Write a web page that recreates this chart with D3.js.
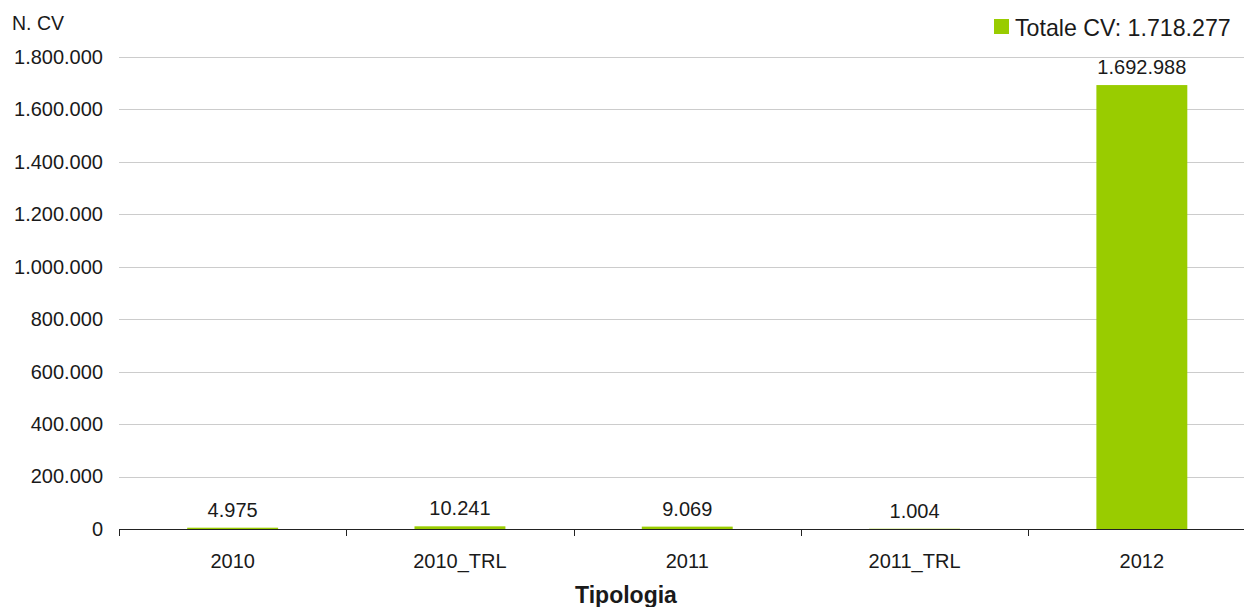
<!DOCTYPE html>
<html>
<head>
<meta charset="utf-8">
<script src="https://cdn.jsdelivr.net/npm/d3@7"></script>
<style>
  html, body { margin: 0; padding: 0; background: #fff; }
  svg { display: block; font-family: "Liberation Sans", Arial, sans-serif; }
</style>
</head>
<body>
<svg id="chart" width="1244" height="607"></svg>
<script>
// Numero di CV per tipologia
const categories = ["2010", "2010_TRL", "2011", "2011_TRL", "2012"];
const values = [4975, 10241, 9069, 1004, 1692988];
const yTicks = [0, 200000, 400000, 600000, 800000, 1000000, 1200000, 1400000, 1600000, 1800000];

const it = d3.formatLocale({ decimal: ",", thousands: ".", grouping: [3], currency: ["€", ""] });
const fmt = it.format(",d");

const svg = d3.select("#chart");
const W = 1244;
const plotLeft = 119, plotRight = 1255.5, plotTop = 57, plotBottom = 529;
const textColor = "#1a1a1a";
const barColor = "#99cc00";
const fontSize = 20;

const xOuter = d3.scaleBand().domain(categories).range([plotLeft, plotRight]).padding(0);
const xBar = d3.scaleBand().domain(categories).range([plotLeft, plotRight]).paddingInner(0.6).paddingOuter(0.3);
const y = d3.scaleLinear().domain([0, 1800000]).range([plotBottom, plotTop]);

// griglia orizzontale
svg.append("g").selectAll("line").data(yTicks.filter(d => d > 0)).join("line")
  .attr("x1", plotLeft).attr("x2", W)
  .attr("y1", d => Math.round(y(d)) + 0.5).attr("y2", d => Math.round(y(d)) + 0.5)
  .attr("stroke", "#cccccc").attr("stroke-width", 1);

// asse Y
const yAxis = svg.append("g").attr("transform", `translate(${plotLeft - 16},0)`)
  .call(d3.axisLeft(y).tickValues(yTicks).tickFormat(fmt).tickSize(0).tickPadding(0));
yAxis.select(".domain").remove();
yAxis.selectAll("text").attr("font-size", fontSize).attr("fill", textColor)
  .attr("font-family", "Liberation Sans, Arial, sans-serif");

// barre
svg.append("g").selectAll("rect").data(categories).join("rect")
  .attr("x", d => xBar(d)).attr("width", xBar.bandwidth())
  .attr("y", (d, i) => y(values[i]))
  .attr("height", (d, i) => plotBottom - y(values[i]))
  .attr("fill", barColor);

// etichette valori
svg.append("g").selectAll("text").data(categories).join("text")
  .attr("x", d => xBar(d) + xBar.bandwidth() / 2)
  .attr("y", (d, i) => y(values[i]) - 11)
  .attr("text-anchor", "middle").attr("font-size", fontSize).attr("fill", textColor)
  .text((d, i) => fmt(values[i]));

// asse X
const xAxis = svg.append("g").attr("transform", `translate(0,${plotBottom})`)
  .call(d3.axisBottom(xOuter).tickSize(0).tickPadding(0));
xAxis.select(".domain").remove();
xAxis.selectAll("text").attr("font-size", fontSize).attr("fill", textColor)
  .attr("font-family", "Liberation Sans, Arial, sans-serif")
  .attr("dy", null).attr("y", 39);
svg.append("line").attr("x1", plotLeft).attr("x2", W)
  .attr("y1", plotBottom + 0.5).attr("y2", plotBottom + 0.5)
  .attr("stroke", "#222").attr("stroke-width", 1);
svg.append("g").selectAll("line").data(categories).join("line")
  .attr("x1", d => Math.round(xOuter(d)) + 0.5).attr("x2", d => Math.round(xOuter(d)) + 0.5)
  .attr("y1", plotBottom).attr("y2", plotBottom + 7)
  .attr("stroke", "#222").attr("stroke-width", 1);

// titoli assi
svg.append("text").attr("x", 12).attr("y", 30).attr("font-size", 19.5).attr("fill", textColor).text("N. CV");
svg.append("text").attr("x", 626).attr("y", 603).attr("text-anchor", "middle")
  .attr("font-size", 23).attr("font-weight", "bold").attr("fill", textColor).text("Tipologia");

// legenda
const total = d3.sum(values);
svg.append("rect").attr("x", 994).attr("y", 19).attr("width", 15).attr("height", 15).attr("fill", barColor);
svg.append("text").attr("x", 1015).attr("y", 36).attr("font-size", 23.2).attr("fill", textColor)
  .text("Totale CV: " + fmt(total));
</script>
</body>
</html>
